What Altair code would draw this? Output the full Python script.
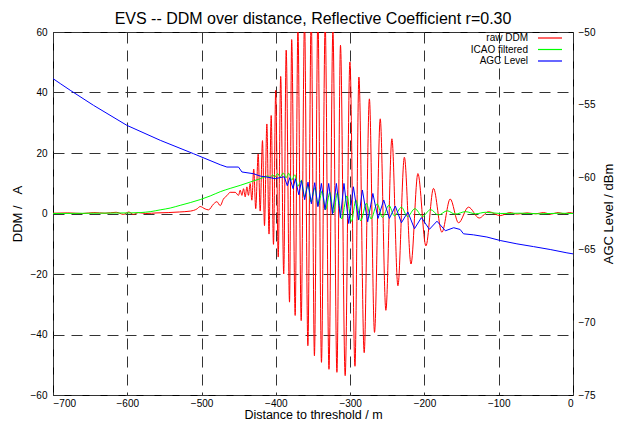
import altair as alt
import pandas as pd

FONT = "Liberation Sans"

# ---------------- data ----------------
raw_dist = [-700, -680, -660, -645, -630, -615, -605, -598, -592, -585, -575, -560, -545, -530, -515,
            -506.3, -501.9, -495.1, -490.7, -484.0, -479.4, -474.9, -470.5, -465.9, -461.5, -454.7,
            -450.3, -448.0, -445.7, -443.5, -441.3, -439.0, -436.9, -434.6, -432.3,
            -429.8, -427.1, -423.8, -421.1, -418.0, -415.3, -412.1, -409.2, -406.3, -403.2,
            -400.2, -396.8, -393.5, -389.4, -386.1, -381.6, -378.7, -374.0, -370.3, -365.9,
            -361.4, -356.9, -352.4, -348.1, -343.4, -338.6, -333.6, -328.5, -323.2, -317.8,
            -313.0, -306.7, -300.3, -293.5, -288.2, -281.1, -274.1, -267.2, -259.5, -251.9,
            -243.8, -235.7, -227.0, -218.1, -208.8, -198.0, -187.8, -176.5, -165.3, -154.1,
            -140.7, -126.3, -113.8, -98.0,
            -85, -75, -62, -50, -40, -30, -20, -12, -5, 0]
raw_ddm = [0.1, 0.2, 0.0, 0.3, 0.1, 0.4, -0.3, 0.5, -0.3, 0.3, 0.0, 0.2, 0.3, 0.5, 0.8,
           1.5, 2.3, 1.5, 1.2, 3.1, 3.9, 2.6, 4.8, 5.9, 7.0, 7.0,
           6.0, 7.7, 6.0, 8.2, 5.5, 8.8, 6.0, 9.9, 4.4,
           14.7, 1.6, 19.7, 0.8, 24.1, -4.0, 29.6, -6.8, 32.4, -10.2,
           40.7, -14.4, 45.3, -20.0, 54.0, -29.3, 57.5, -33.7, 61.0, -35.4,
           64.0, -43.7, 66.0, -47.0, 65.0, -49.2, 63.0, -51.5, 60.5, -52.5,
           55.6, -53.6, 50.1, -50.5, 45.1, -46.0, 37.9, -39.3, 31.3, -32.0,
           24.7, -23.9, 18.6, -16.7, 13.2, -10.7, 8.3, -6.2, 4.8, -3.1,
           2.1, -1.5, 0.6, -0.7,
           0.3, -0.2, 0.2, -0.1, 0.3, -0.2, 0.3, -0.1, 0.3, 0.1]

icao_dist = [-700, -636.5, -596.1, -582.6, -569.2, -555.7, -542.2, -528.8, -515.3, -501.8,
             -488.4, -474.9, -461.5, -448.0, -434.6, -421.1,
             -410.3, -407.9, -404.3, -401.6, -397.5, -394.2, -390.1, -386.3, -382.7, -378.7,
             -374.4, -370.6, -365.5, -361.6, -356.5, -352.8, -347.4, -343.3, -337.6, -333.2,
             -327.2, -322.5, -317.0, -311.4, -304.4, -298.2, -292.3, -285.8, -278.1, -271.9,
             -263.6, -256.6, -247.8, -240.4, -231.0, -222.8, -212.8, -202.7, -191.8, -181.2,
             -169.3, -158.8, -144.7, -131.0, -117.8, -98.0, -71.1, -44.2, -17.2, 0]
icao_ddm = [0.0, 0.1, 0.2, 0.3, 0.6, 1.2, 1.8, 2.7, 3.6, 4.6,
            5.8, 7.2, 8.3, 9.3, 10.4, 11.5,
            12.4, 11.8, 12.8, 12.0, 13.2, 12.1, 13.4, 11.8, 13.3, 11.0,
            12.8, 9.0, 11.0, 5.5, 9.5, 3.8, 8.5, 2.5, 7.5, 1.2,
            7.0, 0.2, 7.0, -1.8, 5.8, -2.6, 4.5, -2.4, 3.4, -1.8,
            3.2, -1.3, 2.7, -0.8, 2.1, -1.0, 1.6, -1.0, 1.3, -0.5,
            0.9, -0.2, 0.6, -0.1, 0.4, 0.0, 0.1, -0.1, 0.1, 0.0]

agc_dist = [-700, -690.3, -676.9, -645.5, -600.5, -555.6, -510.9, -474.9, -465.9, -450.3,
            -445.7, -430.1, -421.1, -412.1, -400.9,
            -388.7, -384.6, -381.2, -376.8, -373.8, -369.1, -365.5, -361.2, -356.7, -352.2,
            -347.7, -343.4, -338.7, -333.8, -328.9, -323.7, -318.5, -313.1, -308.3, -301.9,
            -295.6, -288.8, -283.5, -276.4, -269.4, -262.5, -254.8, -247.2, -239.1, -231.0,
            -222.3, -213.4, -204.1, -193.3, -183.1, -171.8, -160.6,
            -151.9, -147.4, -133.9, -115.9, -98.0, -75.5, -53.2, -30.7, -8.2, 0]
agc_dbm = [-53.21, -53.55, -54.01, -55.05, -56.43, -57.46, -58.38, -59.14, -59.30, -59.30,
           -59.64, -59.76, -59.92, -59.99, -60.10,
           -59.97, -60.59, -60.03, -60.79, -60.10, -61.21, -60.24, -61.55, -60.34, -61.83,
           -60.38, -62.03, -60.43, -62.24, -60.43, -62.52, -60.43, -62.79, -60.43, -63.19,
           -60.66, -62.95, -60.88, -63.07, -61.12, -62.84, -61.57, -62.84, -61.99, -63.14,
           -62.40, -63.55, -62.78, -63.59, -63.03, -63.69, -63.48,
           -63.60, -63.90, -63.97, -64.12, -64.36, -64.59, -64.78, -64.98, -65.21, -65.28]

series_names = ["raw DDM", "ICAO filtered", "AGC Level"]
series_colors = ["#ff0000", "#00ff00", "#0000ff"]
x_ticks = [-700, -600, -500, -400, -300, -200, -100, 0]
ddm_ticks = [-60, -40, -20, 0, 20, 40, 60]
agc_ticks = [-75, -70, -65, -60, -55, -50]

raw_df = pd.DataFrame({"dist": raw_dist, "val": raw_ddm, "series": series_names[0]})
icao_df = pd.DataFrame({"dist": icao_dist, "val": icao_ddm, "series": series_names[1]})
agc_df = pd.DataFrame({"dist": agc_dist, "val": agc_dbm, "series": series_names[2]})
key_df = pd.DataFrame({"series": series_names})

# ---------------- encodings ----------------
color_scale = alt.Scale(domain=series_names, range=series_colors)
color = alt.Color("series:N", scale=color_scale, legend=None)

x_enc = alt.X(
    "dist:Q",
    scale=alt.Scale(domain=[-700, 0], nice=False, zero=False),
    axis=alt.Axis(values=x_ticks, title="Distance to threshold / m", grid=True,
                  labelPadding=3, titlePadding=0, titleFontSize=12.5),
)

y_left = alt.Y(
    "val:Q",
    scale=alt.Scale(domain=[-60, 60], nice=False, zero=False),
    axis=alt.Axis(orient="left", values=ddm_ticks, grid=True,
                  title="DDM /\u00a0\u00a0\u00a0A", labelPadding=6, titlePadding=6),
)

y_right = alt.Y(
    "val:Q",
    scale=alt.Scale(domain=[-75, -50], nice=False, zero=False),
    axis=alt.Axis(orient="right", values=agc_ticks, grid=False,
                  title="AGC Level / dBm", titleAngle=270, titleBaseline="top",
                  labelPadding=5, titlePadding=8),
)

raw_line = alt.Chart(raw_df).mark_line(strokeWidth=1, interpolate="monotone", clip=True).encode(
    x=x_enc, y=y_left, color=color)
icao_line = alt.Chart(icao_df).mark_line(strokeWidth=1, interpolate="monotone", clip=True).encode(
    x=x_enc, y=y_left, color=color)
agc_line = alt.Chart(agc_df).mark_line(strokeWidth=1, clip=True).encode(
    x=x_enc, y=y_right, color=color)

# key (legend) in the upper right corner: label to the left of its line sample
key_y = alt.Y("series:N", scale=alt.Scale(type="point", domain=series_names, range=[6, 29], padding=0),
              axis=None)
key_text = alt.Chart(key_df).mark_text(align="right", baseline="middle", font=FONT, fontSize=10,
                                       color="black").encode(
    y=key_y, x=alt.value(475), text="series:N")
key_line = alt.Chart(key_df).mark_rule(strokeWidth=1.2).encode(
    y=key_y, x=alt.value(485), x2=alt.value(509), color=color)

left = alt.layer(raw_line, icao_line)
key = alt.layer(key_text, key_line)

chart = (
    alt.layer(left, agc_line, key)
    .resolve_scale(y="independent")
    .properties(
        width=520, height=363,
        autosize=alt.AutoSizeParams(type="none"),
        padding={"left": 45, "top": 24, "right": 42, "bottom": 27},
        title=alt.Title("EVS -- DDM over distance, Reflective Coefficient r=0.30",
                        font=FONT, fontSize=16, fontWeight="normal", anchor="middle",
                        color="black", offset=0),
    )
    .configure_view(stroke="black", strokeWidth=1)
    .configure_axis(
        labelFont=FONT, labelFontSize=10, labelColor="black",
        titleFont=FONT, titleFontSize=13, titleFontWeight="normal", titleColor="black",
        ticks=False, domain=False,
        gridColor="#333333", gridDash=[11, 7], gridWidth=1, gridOpacity=1,
    )
)

chart.save("out.html", embed_options={"renderer": "svg", "actions": False})
